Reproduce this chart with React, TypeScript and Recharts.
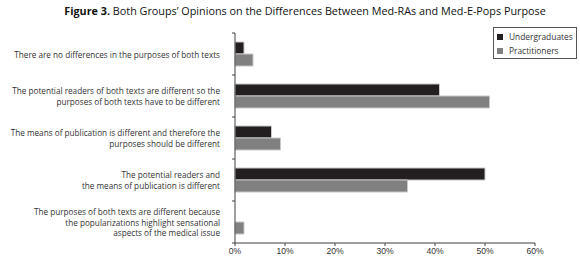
import React from 'react';
import { BarChart, Bar, XAxis, YAxis } from 'recharts';

// Opinion categories (line breaks as in the figure)
const CATEGORIES = [
  'There are no differences in the purposes of both texts',
  'The potential readers of both texts are different so the\npurposes of both texts have to be different',
  'The means of publication is different and therefore the\npurposes should be different',
  'The potential readers and\nthe means of publication is different',
  'The purposes of both texts are different because\nthe popularizations highlight sensational\naspects of the medical issue',
];

const UNDERGRADUATES = [1.8, 40.9, 7.3, 50.0, 0];
const PRACTITIONERS = [3.6, 50.9, 9.1, 34.5, 1.8];

const X_TICKS = [0, 10, 20, 30, 40, 50, 60];

const SERIES = [
  { key: 'undergraduates', name: 'Undergraduates', color: '#231f20' },
  { key: 'practitioners', name: 'Practitioners', color: '#808080' },
];

const data = CATEGORIES.map((category, i) => ({
  category,
  undergraduates: UNDERGRADUATES[i],
  practitioners: PRACTITIONERS[i],
}));

const TEXT = '#333333';
const AXIS = '#404040';
const FONT = "'Open Sans', 'DejaVu Sans', sans-serif";

// category labels right-aligned, ticks at band boundaries
function CategoryTick(props: any) {
  const { x, y, payload, index, visibleTicksCount } = props;
  const band = 42;
  const lines = String(payload.value).split('\n');
  const lineH = 10.5;
  const startY = y - ((lines.length - 1) * lineH) / 2;
  const axisX = x + 8;
  return (
    <g>
      <line x1={axisX - 3} x2={axisX} y1={y - band / 2} y2={y - band / 2} stroke={AXIS} />
      {index === visibleTicksCount - 1 && (
        <line x1={axisX - 3} x2={axisX} y1={y + band / 2} y2={y + band / 2} stroke={AXIS} />
      )}
      {lines.map((l, i) => (
        <text
          key={i}
          x={axisX - 15}
          y={startY + i * lineH}
          textAnchor="end"
          dominantBaseline="central"
          fill={TEXT}
          fontSize={8.2}
          fontFamily={FONT}
        >
          {l}
        </text>
      ))}
    </g>
  );
}

function BoxLegend() {
  return (
    <div
      style={{
        position: 'absolute',
        left: 493,
        top: 27,
        width: 76,
        height: 26,
        border: '1px solid #555',
        padding: '2px 3px',
        background: '#fff',
        fontFamily: FONT,
        fontSize: 8.4,
        color: TEXT,
        lineHeight: '14px',
      }}
    >
      {SERIES.map((s) => (
        <div key={s.key} style={{ display: 'flex', alignItems: 'center', gap: 6, whiteSpace: 'nowrap' }}>
          <span style={{ width: 6, height: 6, background: s.color, display: 'inline-block', flex: 'none' }} />
          <span>{s.name}</span>
        </div>
      ))}
    </div>
  );
}

export default function App() {
  return (
    <div style={{ position: 'absolute', left: 0, top: 0, width: 580, height: 269, background: '#fff' }}>
      <div
        style={{
          position: 'absolute',
          top: 3,
          left: 0,
          width: 610,
          textAlign: 'center',
          fontFamily: FONT,
          fontSize: 10.8,
          color: '#111',
          whiteSpace: 'nowrap',
        }}
      >
        <b>Figure 3.</b> Both Groups’ Opinions on the Differences Between Med-RAs and Med-E-Pops Purpose
      </div>
      <BarChart
        width={580}
        height={269}
        data={data}
        layout="vertical"
        margin={{ top: 33, right: 45, bottom: 6, left: 0 }}
        barSize={12}
        barGap={0}
      >
        <XAxis
          type="number"
          domain={[0, 60]}
          ticks={X_TICKS}
          tickFormatter={(v) => `${v}%`}
          stroke={AXIS}
          tickSize={3}
          height={20}
          tick={{ fill: TEXT, fontSize: 8.6, fontFamily: "'Liberation Sans', Arial, sans-serif" }}
          interval={0}
        />
        <YAxis
          type="category"
          dataKey="category"
          width={235}
          stroke={AXIS}
          tickLine={false}
          tick={<CategoryTick />}
          interval={0}
        />
        {SERIES.map((s) => (
          <Bar
            key={s.key}
            dataKey={s.key}
            name={s.name}
            fill={s.color}
            stroke="#c8c8c8"
            strokeWidth={1}
            isAnimationActive={false}
          />
        ))}
      </BarChart>
      <BoxLegend />
    </div>
  );
}
